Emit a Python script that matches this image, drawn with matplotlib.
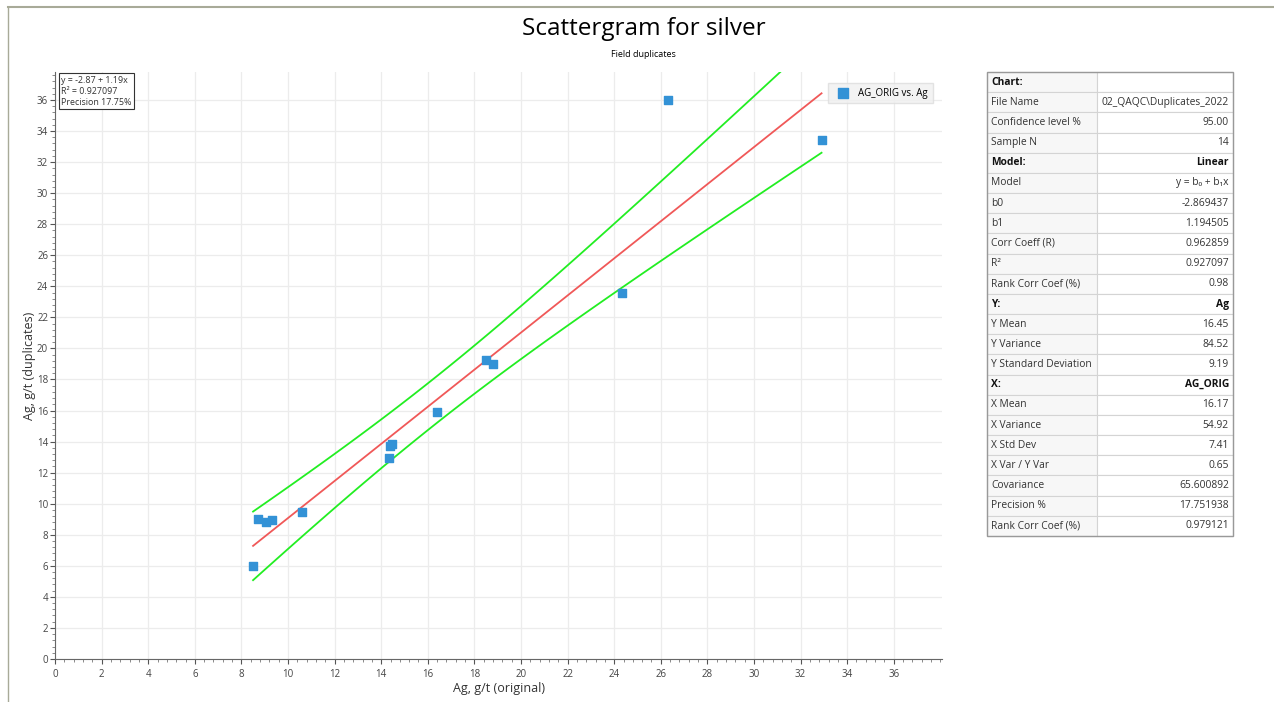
import numpy as np
import matplotlib
matplotlib.use("Agg")
import matplotlib.pyplot as plt
from matplotlib.ticker import FixedLocator, MultipleLocator

plt.rcParams["font.family"] = ["Open Sans", "DejaVu Sans"]

ag_orig = [8.5, 8.7, 9.05, 9.3, 10.6, 14.33, 14.38, 14.46, 16.4, 18.5, 18.8, 24.33, 26.3, 32.9]
ag_dup = [6.0, 9.03, 8.84, 8.97, 9.48, 12.96, 13.73, 13.86, 15.93, 19.27, 19.0, 23.6, 36.0, 33.4]

# Modell aus der Tabelle
b0 = -2.869437
b1 = 1.194505
t_wert = 2.179  # t(0.975, n-2) fuer n = 14

tabelle_links = [
    "Chart:", "File Name", "Confidence level %", "Sample N", "Model:", "Model",
    "b0", "b1", "Corr Coeff (R)", "R²", "Rank Corr Coef (%)", "Y:", "Y Mean",
    "Y Variance", "Y Standard Deviation", "X:", "X Mean", "X Variance",
    "X Std Dev", "X Var / Y Var", "Covariance", "Precision %", "Rank Corr Coef (%)",
]
tabelle_rechts = [
    "", "02_QAQC\\Duplicates_2022", "95.00", "14", "Linear", "y = b₀ + b₁x",
    "-2.869437", "1.194505", "0.962859", "0.927097", "0.98", "Ag", "16.45",
    "84.52", "9.19", "AG_ORIG", "16.17", "54.92", "7.41", "0.65", "65.600892",
    "17.751938", "0.979121",
]
fett = ["Chart:", "Model:", "Y:", "X:"]

x = np.array(ag_orig)
y = np.array(ag_dup)
n = len(x)

# Regressionsgerade und 95%-Vertrauensband
x_linie = np.linspace(x.min(), x.max(), 100)
y_linie = b0 + b1 * x_linie
rest = y - (b0 + b1 * x)
s = np.sqrt(np.sum(rest ** 2) / (n - 2))
sxx = np.sum((x - x.mean()) ** 2)
halb = t_wert * s * np.sqrt(1 / n + (x_linie - x.mean()) ** 2 / sxx)

fig = plt.figure(figsize=(12.74, 7.02), dpi=100)

# Rahmen wie im Original
fig.add_artist(plt.Line2D([0.006, 0.999], [0.990, 0.990], color="#a8aa98", lw=1.5))
fig.add_artist(plt.Line2D([0.0065, 0.0065], [0.0, 0.990], color="#a8aa98", lw=1.0))

fig.text(0.505, 0.958, "Scattergram for silver", ha="center", va="center", fontsize=17.5)
fig.text(0.505, 0.923, "Field duplicates", ha="center", va="center", fontsize=6.5)

ax = fig.add_axes([0.0432, 0.0613, 0.6962, 0.8361])

ax.plot(x_linie, y_linie + halb, color="#22ee22", lw=1.3, zorder=3)
ax.plot(x_linie, y_linie - halb, color="#22ee22", lw=1.3, zorder=3)
ax.plot(x_linie, y_linie, color="#f05858", lw=1.3, zorder=3)
ax.scatter(x, y, marker="s", s=36, color="#3392d6", zorder=4, label="AG_ORIG vs. Ag")

ax.set_xlim(0, 38.07)
ax.set_ylim(0, 37.8)
ax.xaxis.set_major_locator(FixedLocator(np.arange(0, 37, 2)))
ax.yaxis.set_major_locator(FixedLocator(np.arange(0, 37, 2)))
ax.xaxis.set_minor_locator(MultipleLocator(0.4))
ax.yaxis.set_minor_locator(MultipleLocator(0.4))
ax.tick_params(which="major", length=3.5, color="#555555", labelsize=7, labelcolor="#444444")
ax.tick_params(axis="y", which="major", pad=1.5)
ax.tick_params(which="minor", length=2, color="#777777")
ax.grid(True, which="major", color="#ececec", lw=0.9)
ax.set_axisbelow(True)
for seite in ["top", "right"]:
    ax.spines[seite].set_visible(False)
for seite in ["left", "bottom"]:
    ax.spines[seite].set_color("#666666")

ax.set_xlabel("Ag, g/t (original)", fontsize=9, color="#333333")
ax.set_ylabel("Ag, g/t (duplicates)", fontsize=9, color="#333333")
ax.xaxis.set_label_coords(0.5, -0.04)
ax.yaxis.set_label_coords(-0.021, 0.5)

ax.text(0.007, 0.994,
        f"y = {b0:.2f} + {b1:.2f}x\nR² = 0.927097\nPrecision 17.75%",
        transform=ax.transAxes, ha="left", va="top", fontsize=6.4, color="#333333",
        linespacing=1.3,
        bbox=dict(boxstyle="square,pad=0.25", fc="white", ec="#333333", lw=0.8))

leg = ax.legend(loc="upper right", bbox_to_anchor=(0.995, 0.99), fontsize=7,
                frameon=True, fancybox=False, handletextpad=0.6, borderpad=0.5,
                markerscale=1.1)
leg.get_frame().set_facecolor("#f0f0f0")
leg.get_frame().set_edgecolor("#dddddd")

# Statistik-Tabelle
tab_ax = fig.add_axes([987 / 1274, 1 - 536 / 702, (1233 - 987) / 1274, (536 - 72) / 702])
tab_ax.axis("off")
zellen = [[l, r] for l, r in zip(tabelle_links, tabelle_rechts)]
tab = tab_ax.table(cellText=zellen, bbox=[0, 0, 1, 1], colWidths=[0.447, 0.553])
tab.auto_set_font_size(False)
for (zeile, spalte), zelle in tab.get_celld().items():
    zelle.set_edgecolor("#d4d4d4")
    zelle.set_linewidth(0.8)
    zelle.set_fontsize(7.4)
    txt = zelle.get_text()
    txt.set_color("#333333")
    if spalte == 0:
        zelle.set_facecolor("#f7f7f7")
        txt.set_ha("left")
        zelle.PAD = 0.04
    else:
        zelle.set_facecolor("white")
        txt.set_ha("right")
        zelle.PAD = 0.03
    if tabelle_links[zeile] in fett:
        txt.set_fontweight("bold")
        txt.set_color("#111111")
# Aussenrahmen
tab_ax.add_patch(plt.Rectangle((0, 0), 1, 1, transform=tab_ax.transAxes,
                               fill=False, ec="#999999", lw=1.0, clip_on=False))

fig.savefig("out.png", dpi=100, facecolor="white")
